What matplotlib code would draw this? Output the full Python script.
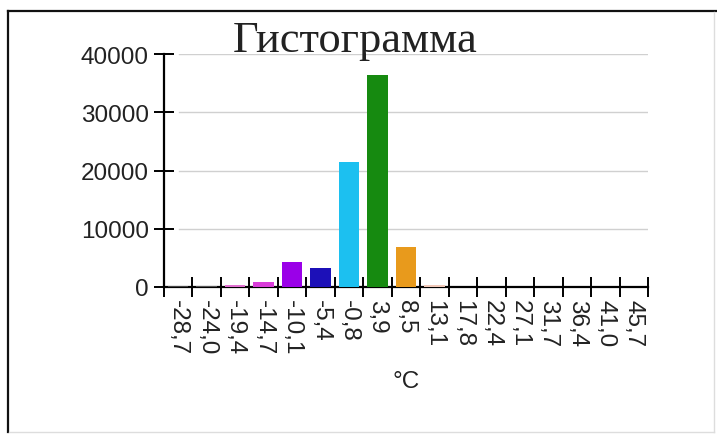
import numpy as np
import matplotlib
matplotlib.use("Agg")
import matplotlib.pyplot as plt
from matplotlib.lines import Line2D

# Histogram bins (temperature, °C) and counts per bin
bin_labels = ["-28,7", "-24,0", "-19,4", "-14,7", "-10,1", "-5,4", "-0,8", "3,9",
              "8,5", "13,1", "17,8", "22,4", "27,1", "31,7", "36,4", "41,0", "45,7"]
counts = [250, 250, 300, 850, 4350, 3250, 21500, 36400, 6950, 300,
          0, 0, 0, 0, 0, 0, 0]
bar_colors = ["#444444", "#555555", "#e070d0", "#d83cd8", "#9a00e8", "#1c10b8",
              "#1cc0f0", "#168a10", "#e89a1c", "#f0c8b8",
              "#cccccc", "#cccccc", "#cccccc", "#cccccc", "#cccccc", "#cccccc", "#cccccc"]
y_ticks = [0, 10000, 20000, 30000, 40000]

W, H = 717, 439
fig = plt.figure(figsize=(W / 100, H / 100), dpi=100, facecolor="white")

def fx(px):
    return px / W

def fy(py):
    return 1 - py / H

ax = fig.add_axes([fx(164), fy(288), fx(648) - fx(164), fy(55) - fy(288)])
ax.set_facecolor("white")

n = len(counts)
centers = np.arange(n) + 0.5
ax.bar(centers, counts, width=0.72, color=bar_colors, zorder=3)

ax.set_xlim(0, n)
ax.set_ylim(0, 40000)

# grid lines
for v in y_ticks[1:]:
    ax.axhline(v, xmin=0.03, xmax=1.0, color="#d0d0d0", lw=1, zorder=1)

for s in ["top", "right"]:
    ax.spines[s].set_visible(False)
ax.spines["left"].set_linewidth(1.6)
ax.spines["bottom"].set_linewidth(1.6)

tick_font = dict(family=["Liberation Sans", "DejaVu Sans"], size=17.5)

ax.set_yticks(y_ticks)
ax.set_yticklabels([str(v) for v in y_ticks], **tick_font, color="#222222")
ax.tick_params(axis="y", direction="inout", length=14, width=1.4, pad=4)

# bin edges get tick marks, bin centres get the labels
ax.set_xticks(np.arange(n + 1))
ax.set_xticklabels([])
ax.tick_params(axis="x", which="major", direction="inout", length=14, width=1.4)
ax.set_xticks(centers, minor=True)
ax.set_xticklabels(bin_labels, minor=True, rotation=-90, **tick_font, color="#222222")
ax.tick_params(axis="x", which="minor", length=0, pad=9)

ax.set_xlabel("°C", **tick_font, color="#222222", labelpad=11)

fig.text(0.495, fy(52), "Гистограмма", ha="center", va="baseline",
         family=["Liberation Serif", "DejaVu Serif"], fontsize=32, color="#222222")

# outer frame: dark top/left edges, light right/bottom edges
fig.add_artist(Line2D([fx(8), fx(8)], [fy(12), fy(433)], color="#111111", lw=1.6))
fig.add_artist(Line2D([fx(8), fx(717)], [fy(12), fy(12)], color="#111111", lw=1.6))
fig.add_artist(Line2D([fx(714), fx(714)], [fy(13), fy(433)], color="#dddddd", lw=1))
fig.add_artist(Line2D([fx(9), fx(714)], [fy(433), fy(433)], color="#dddddd", lw=1))

plt.savefig("out.png", dpi=100, facecolor="white")
